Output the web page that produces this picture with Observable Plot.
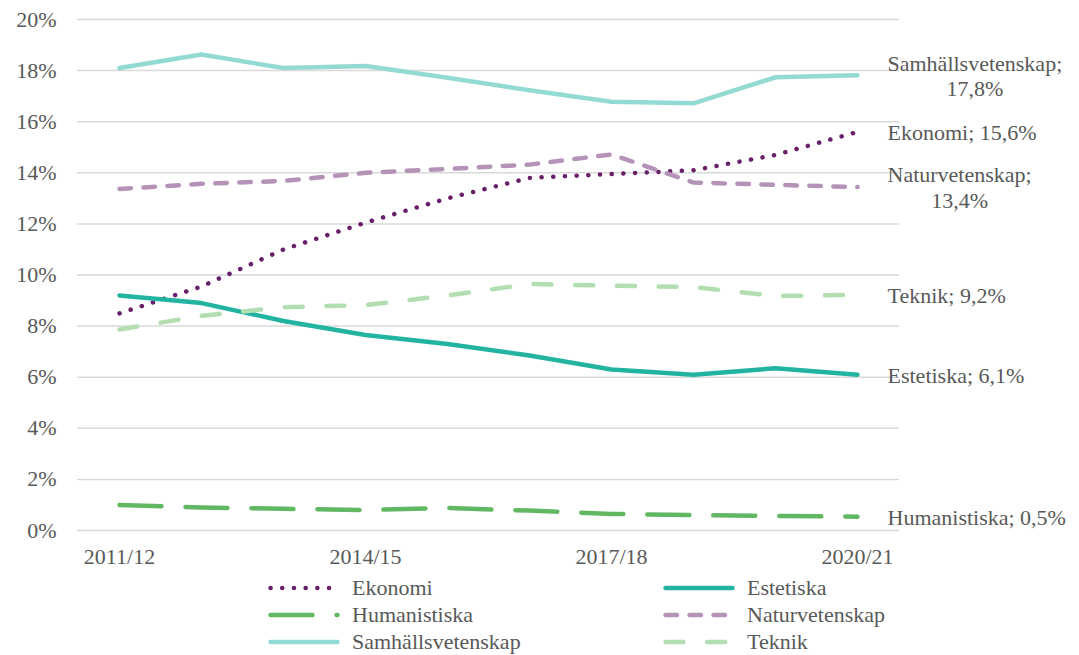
<!DOCTYPE html>
<html>
<head>
<meta charset="utf-8">
<script src="https://cdn.jsdelivr.net/npm/d3@7"></script>
<script src="https://cdn.jsdelivr.net/npm/@observablehq/plot@0.6"></script>
<style>
  body { margin: 0; background: #fff; font-family: "Liberation Serif", "DejaVu Serif", serif; }
  #chart svg { display: block; }
  #legend { display: grid; grid-template-columns: 395px 395px; padding-left: 268px; margin-top: 4px; color: #595959; font-size: 22px; line-height: 27px; }
  .item { display: flex; align-items: center; height: 27px; }
  .item svg { margin-right: 12px; }
  #chart text { font-family: "Liberation Serif", "DejaVu Serif", serif; }
</style>
</head>
<body>
<div id="chart"></div>
<div id="legend"></div>
<script>
const years = ["2011/12","2012/13","2013/14","2014/15","2015/16","2016/17","2017/18","2018/19","2019/20","2020/21"];
const tickYears = ["2011/12","2014/15","2017/18","2020/21"];
const seriesNames = ["Ekonomi","Estetiska","Humanistiska","Naturvetenskap","Samhällsvetenskap","Teknik"];
const ekonomi = [8.5, 9.55, 11.0, 12.05, 13.0, 13.8, 13.95, 14.1, 14.7, 15.6];
const estetiska = [9.2, 8.9, 8.2, 7.65, 7.3, 6.85, 6.3, 6.1, 6.35, 6.1];
const humanistiska = [1.0, 0.9, 0.85, 0.8, 0.88, 0.78, 0.65, 0.6, 0.57, 0.54];
const naturvetenskap = [13.37, 13.57, 13.68, 14.0, 14.15, 14.32, 14.72, 13.62, 13.53, 13.44];
const samhallsvetenskap = [18.1, 18.63, 18.1, 18.18, 17.72, 17.23, 16.78, 16.72, 17.74, 17.82];
const teknik = [7.87, 8.4, 8.74, 8.82, 9.2, 9.65, 9.58, 9.53, 9.18, 9.22];
const yTicks = [0, 2, 4, 6, 8, 10, 12, 14, 16, 18, 20];

const values = [ekonomi, estetiska, humanistiska, naturvetenskap, samhallsvetenskap, teknik];
const colors = ["#68206a", "#22b3a1", "#62b862", "#b593b9", "#93dbd2", "#b3deb2"];
const dashes = ["0.1 11.6", null, "42 24", "11.5 12.5", null, "18 23.7"];
const FONT = "'Liberation Serif', 'DejaVu Serif', serif";

const rows = seriesNames.flatMap((name, i) => years.map((year, j) => ({name, year, value: values[i][j]})));
const ends = seriesNames.map((name, i) => {
  const v = values[i][values[i].length - 1];
  const val = v.toFixed(1).replace(".", ",") + "%";
  return {name, year: years[years.length - 1], value: v, label: name.length > 13 ? name + ";\n" + val : name + "; " + val};
});

const marks = [
  Plot.ruleY(yTicks, {stroke: "#d9d9d9", strokeWidth: 1.5}),
  Plot.axisX(tickYears, {tickSize: 0, tickPadding: 18, fontFamily: FONT, fontSize: 22, fill: "#595959", label: null}),
  Plot.axisY(yTicks, {tickSize: 0, tickPadding: 21, tickFormat: d => d + "%", fontFamily: FONT, fontSize: 22, fill: "#595959", label: null})
];
seriesNames.forEach((name, i) => {
  marks.push(Plot.line(rows.filter(d => d.name === name), {
    x: "year", y: "value", stroke: colors[i], strokeWidth: 4.5,
    strokeDasharray: dashes[i] || undefined, strokeLinecap: "round", strokeLinejoin: "round"
  }));
});
marks.push(Plot.text(ends, {x: "year", y: "value", text: "label", textAnchor: "start", lineAnchor: "middle", dx: 30, fill: "#595959", fontSize: 22, fontFamily: FONT, lineHeight: 1.18, className: "endlabels"}));

const chart = Plot.plot({
  width: 1079, height: 570,
  marginLeft: 77, marginRight: 180, marginTop: 19, marginBottom: 40,
  style: {fontFamily: FONT, fontSize: "22px", color: "#595959", background: "white"},
  x: {type: "point", domain: years, padding: 0.5},
  y: {domain: [0, 20]},
  marks
});
document.getElementById("chart").appendChild(chart);

// center multi-line end labels (like the spreadsheet data labels)
chart.querySelectorAll(".endlabels text").forEach(t => {
  const spans = t.querySelectorAll("tspan");
  if (spans.length > 1) {
    const w = t.getBBox().width;
    t.setAttribute("text-anchor", "middle");
    spans.forEach(s => s.setAttribute("x", w / 2));
  }
});

const legend = document.getElementById("legend");
seriesNames.forEach((name, i) => {
  const item = document.createElement("div");
  item.className = "item";
  const svg = d3.create("svg").attr("width", 72).attr("height", 10);
  const ln = svg.append("line").attr("x1", 2.5).attr("x2", 69.5).attr("y1", 5).attr("y2", 5)
    .attr("stroke", colors[i]).attr("stroke-width", 4.5).attr("stroke-linecap", "round");
  if (dashes[i]) ln.attr("stroke-dasharray", dashes[i]);
  item.appendChild(svg.node());
  const span = document.createElement("span");
  span.style.fontFamily = FONT;
  span.textContent = name;
  item.appendChild(span);
  legend.appendChild(item);
});
</script>
</body>
</html>
